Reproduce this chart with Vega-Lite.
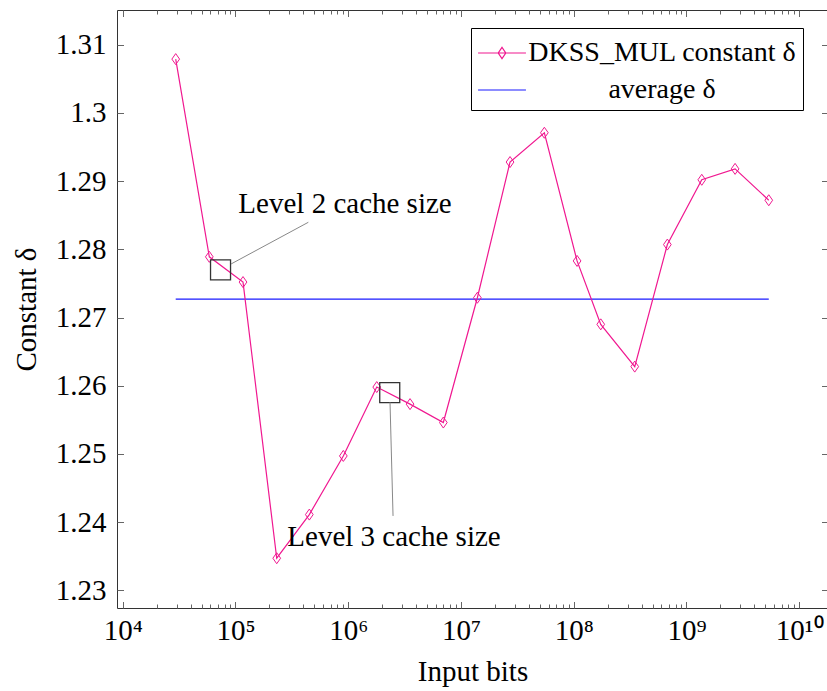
{
  "$schema": "https://vega.github.io/schema/vega-lite/v6.json",
  "width": 711,
  "height": 598,
  "autosize": {"type": "none"},
  "padding": {"left": 117, "top": 10, "right": 0, "bottom": 83},
  "background": "white",
  "config": {
    "font": "Liberation Serif",
    "view": {"stroke": "#333333", "strokeWidth": 1},
    "axis": {
      "domain": false, "grid": false,
      "labelFont": "Liberation Serif", "titleFont": "Liberation Serif",
      "labelFontSize": 29, "titleFontSize": 29,
      "labelColor": "black", "titleColor": "black", "titleFontWeight": "normal",
      "tickColor": "#666666", "tickWidth": 1
    },
    "legend": {
      "labelFont": "Liberation Serif", "labelFontSize": 28, "labelColor": "black"
    }
  },
  "datasets": {
    "pts": [
      {"x": 29520, "y": 1.3079},
      {"x": 58630, "y": 1.2789},
      {"x": 116700, "y": 1.2752},
      {"x": 232300, "y": 1.2347},
      {"x": 451900, "y": 1.2411},
      {"x": 905000, "y": 1.2497},
      {"x": 1791000, "y": 1.2598},
      {"x": 3535000, "y": 1.2573},
      {"x": 6977000, "y": 1.2546},
      {"x": 13980000, "y": 1.2729},
      {"x": 27240000, "y": 1.2928},
      {"x": 54910000, "y": 1.2971},
      {"x": 107100000, "y": 1.2783},
      {"x": 173700000, "y": 1.2690},
      {"x": 347800000, "y": 1.2628},
      {"x": 676900000, "y": 1.2807},
      {"x": 1367000000, "y": 1.2902},
      {"x": 2699000000, "y": 1.2918},
      {"x": 5370000000, "y": 1.2872}
    ],
    "avg": [{"x": 29520, "x2": 5370000000, "y": 1.2727}],
    "boxes": [
      {"x": 73730, "y": 1.2770},
      {"x": 2335000, "y": 1.2590}
    ],
    "pins": [
      {"x": 91330, "x2": 442900, "y": 1.27785, "y2": 1.28397},
      {"x": 2349000, "x2": 2498000, "y": 1.25755, "y2": 1.2409}
    ],
    "notes": [
      {"label": "Level 2 cache size", "x": 937300, "y": 1.28534},
      {"label": "Level 3 cache size", "x": 2549000, "y": 1.23645}
    ]
  },
  "resolve": {"axis": {"x": "independent", "y": "independent"}},
  "layer": [
    {
      "data": {"name": "avg"},
      "mark": {"type": "rule", "strokeWidth": 1.2},
      "encoding": {
        "x": {"field": "x", "type": "quantitative",
          "scale": {"type": "log", "domain": [8900, 18000000000], "nice": false},
          "axis": {"orient": "bottom", "values": [10000, 100000, 1000000, 10000000, 100000000, 1000000000, 10000000000],
            "ticks": false, "labelPadding": 8, "labelFlush": false, "labelOverlap": false,
            "labelExpr": "'10' + ['⁰','¹','²','³','⁴','⁵','⁶','⁷','⁸','⁹','¹⁰'][round(log(datum.value)/LN10)]",
            "title": "Input bits", "titlePadding": 12}},
        "x2": {"field": "x2"},
        "y": {"field": "y", "type": "quantitative",
          "scale": {"domain": [1.2274, 1.3151], "nice": false, "zero": false},
          "axis": {"orient": "left", "values": [1.23, 1.24, 1.25, 1.26, 1.27, 1.28, 1.29, 1.3, 1.31],
            "ticks": false, "labelPadding": 11, "labelFlush": false, "labelOverlap": false,
            "labelExpr": "format(datum.value, '.2~f')",
            "title": "Constant δ", "titlePadding": 14}},
        "color": {"datum": "average δ", "type": "nominal",
          "scale": {"domain": ["DKSS_MUL constant δ", "average δ"], "range": ["#f01890", "#1a1aff"]},
          "legend": {"title": null, "orient": "none", "legendX": 354, "legendY": 18,
            "strokeColor": "black", "fillColor": "white", "padding": 6, "cornerRadius": 0,
            "symbolSize": 1296, "symbolStrokeWidth": 1.2, "symbolOffset": 6,
            "symbolType": {"expr": "datum.value === 'average δ' ? 'M-1.33,0H1.33' : 'M-1.33,0H1.33M0,-0.31L0.21,0L0,0.31L-0.21,0Z'"},
            "labelAlign": "center", "labelOffset": 141, "labelLimit": 500, "rowPadding": 4}}
      }
    },
    {
      "data": {"name": "pts"},
      "mark": {"type": "line", "strokeWidth": 1.2},
      "encoding": {
        "x": {"field": "x", "type": "quantitative",
          "scale": {"type": "log", "domain": [8900, 18000000000], "nice": false},
          "axis": {"orient": "bottom", "values": [10000, 100000, 1000000, 10000000, 100000000, 1000000000, 10000000000],
            "labels": false, "tickSize": -6.5, "title": null}},
        "y": {"field": "y", "type": "quantitative",
          "scale": {"domain": [1.2274, 1.3151], "nice": false, "zero": false},
          "axis": {"orient": "left", "values": [1.23, 1.24, 1.25, 1.26, 1.27, 1.28, 1.29, 1.3, 1.31],
            "labels": false, "tickSize": -6.5, "title": null}},
        "color": {"datum": "DKSS_MUL constant δ", "type": "nominal"}
      }
    },
    {
      "data": {"name": "pts"},
      "mark": {"type": "point", "shape": "M0,-1L0.7,0L0,1L-0.7,0Z", "size": 121, "filled": false, "stroke": "#f01890", "strokeWidth": 1, "opacity": 1},
      "encoding": {
        "x": {"field": "x", "type": "quantitative",
          "scale": {"type": "log", "domain": [8900, 18000000000], "nice": false},
          "axis": {"orient": "bottom",
            "values": [20000, 30000, 40000, 50000, 60000, 70000, 80000, 90000,
                       200000, 300000, 400000, 500000, 600000, 700000, 800000, 900000,
                       2000000, 3000000, 4000000, 5000000, 6000000, 7000000, 8000000, 9000000,
                       20000000, 30000000, 40000000, 50000000, 60000000, 70000000, 80000000, 90000000,
                       200000000, 300000000, 400000000, 500000000, 600000000, 700000000, 800000000, 900000000,
                       2000000000, 3000000000, 4000000000, 5000000000, 6000000000, 7000000000, 8000000000, 9000000000],
            "labels": false, "tickSize": -4, "title": null}},
        "y": {"field": "y", "type": "quantitative",
          "scale": {"domain": [1.2274, 1.3151], "nice": false, "zero": false},
          "axis": {"orient": "right", "values": [1.23, 1.24, 1.25, 1.26, 1.27, 1.28, 1.29, 1.3, 1.31],
            "labels": false, "tickSize": -6.5, "title": null}}
      }
    },
    {
      "data": {"name": "boxes"},
      "mark": {"type": "point", "shape": "square", "size": 400, "filled": false, "stroke": "#333333", "strokeWidth": 1.3, "opacity": 1},
      "encoding": {
        "x": {"field": "x", "type": "quantitative",
          "scale": {"type": "log", "domain": [8900, 18000000000], "nice": false},
          "axis": {"orient": "top", "values": [10000, 100000, 1000000, 10000000, 100000000, 1000000000, 10000000000],
            "labels": false, "tickSize": -6.5, "title": null}},
        "y": {"field": "y", "type": "quantitative",
          "scale": {"domain": [1.2274, 1.3151], "nice": false, "zero": false}, "axis": null}
      }
    },
    {
      "data": {"name": "pins"},
      "mark": {"type": "rule", "stroke": "#888888", "strokeWidth": 1},
      "encoding": {
        "x": {"field": "x", "type": "quantitative",
          "scale": {"type": "log", "domain": [8900, 18000000000], "nice": false},
          "axis": {"orient": "top",
            "values": [20000, 30000, 40000, 50000, 60000, 70000, 80000, 90000,
                       200000, 300000, 400000, 500000, 600000, 700000, 800000, 900000,
                       2000000, 3000000, 4000000, 5000000, 6000000, 7000000, 8000000, 9000000,
                       20000000, 30000000, 40000000, 50000000, 60000000, 70000000, 80000000, 90000000,
                       200000000, 300000000, 400000000, 500000000, 600000000, 700000000, 800000000, 900000000,
                       2000000000, 3000000000, 4000000000, 5000000000, 6000000000, 7000000000, 8000000000, 9000000000],
            "labels": false, "tickSize": -4, "title": null}},
        "x2": {"field": "x2"},
        "y": {"field": "y", "type": "quantitative",
          "scale": {"domain": [1.2274, 1.3151], "nice": false, "zero": false}, "axis": null},
        "y2": {"field": "y2"}
      }
    },
    {
      "data": {"name": "notes"},
      "mark": {"type": "text", "font": "Liberation Serif", "fontSize": 29, "align": "center", "baseline": "alphabetic", "color": "black"},
      "encoding": {
        "x": {"field": "x", "type": "quantitative",
          "scale": {"type": "log", "domain": [8900, 18000000000], "nice": false}, "axis": null},
        "y": {"field": "y", "type": "quantitative",
          "scale": {"domain": [1.2274, 1.3151], "nice": false, "zero": false}, "axis": null},
        "text": {"field": "label"}
      }
    }
  ]
}
